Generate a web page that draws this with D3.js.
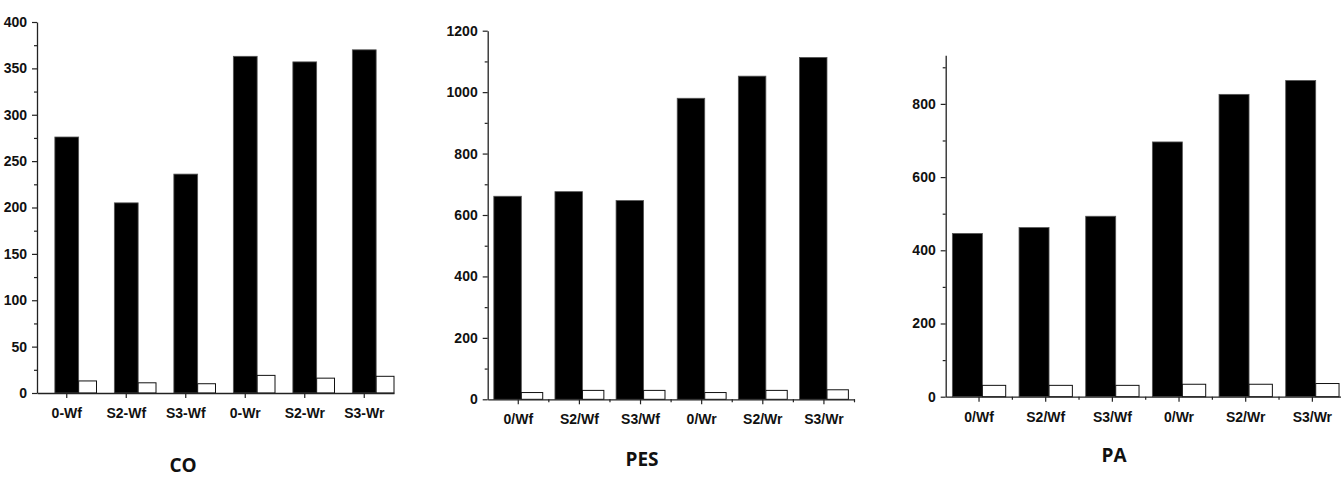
<!DOCTYPE html>
<html>
<head>
<meta charset="utf-8">
<script src="https://cdn.jsdelivr.net/npm/d3@7"></script>
<style>
  html, body { margin: 0; padding: 0; background: #fff; }
  svg { display: block; }
  .tick text { font-family: "Liberation Sans Narrow", "Arial Narrow", "Liberation Sans", sans-serif; font-weight: bold; font-size: 14px; fill: #111; }
  .title { font-family: "Open Sans", "Noto Sans", sans-serif; font-weight: 700; font-size: 19px; fill: #111; }
</style>
</head>
<body>
<svg id="chart" width="1341" height="477"></svg>
<script>
// ---- data ----
const categoriesCO = ["0-Wf", "S2-Wf", "S3-Wf", "0-Wr", "S2-Wr", "S3-Wr"];
const categoriesPES = ["0/Wf", "S2/Wf", "S3/Wf", "0/Wr", "S2/Wr", "S3/Wr"];
const categoriesPA = ["0/Wf", "S2/Wf", "S3/Wf", "0/Wr", "S2/Wr", "S3/Wr"];

const coBlack = [276, 205, 236, 363, 357, 370];
const coWhite = [13, 11, 10, 19, 16, 18];
const pesBlack = [661, 676, 647, 980, 1052, 1113];
const pesWhite = [22, 29, 29, 22, 29, 31];
const paBlack = [446, 462, 493, 696, 826, 864];
const paWhite = [31, 31, 31, 34, 34, 36];

const coTicks = [0, 50, 100, 150, 200, 250, 300, 350, 400];
const coMinor = [25, 75, 125, 175, 225, 275, 325, 375];
const pesTicks = [0, 200, 400, 600, 800, 1000, 1200];
const pesMinor = [100, 300, 500, 700, 900, 1100];
const paTicks = [0, 200, 400, 600, 800];
const paMinor = [100, 300, 500, 700, 900];

const titles = ["CO", "PES", "PA"];

// ---- layout (positions / styles kept separate from data) ----
const panels = [
  { cats: categoriesCO, black: coBlack, white: coWhite, ticks: coTicks, minor: coMinor,
    yMax: 400, xr: [37, 394], yr: [393, 22], blackW: 0.40, whiteW: 0.30, centeredBlack: true,
    xMinor: false, title: titles[0], tx: 183, ty: 472 },
  { cats: categoriesPES, black: pesBlack, white: pesWhite, ticks: pesTicks, minor: pesMinor,
    yMax: 1200, xr: [487.7, 854.5], yr: [399.3, 30.7], blackW: 0.45, whiteW: 0.35, centeredBlack: false,
    xMinor: true, title: titles[1], tx: 642, ty: 466 },
  { cats: categoriesPA, black: paBlack, white: paWhite, ticks: paTicks, minor: paMinor,
    yMax: 933, xr: [945.7, 1345.7], yr: [396.7, 55.2], blackW: 0.45, whiteW: 0.35, centeredBlack: false,
    xMinor: true, title: titles[2], tx: 1114, ty: 462 }
];

const svg = d3.select("#chart");
const axisColor = "#222";
const fmt = d3.format("d");

panels.forEach(p => {
  const g = svg.append("g");
  const x = d3.scaleBand().domain(p.cats).range(p.xr).padding(0);
  const y = d3.scaleLinear().domain([0, p.yMax]).range(p.yr);
  const bw = x.bandwidth();

  const startOf = i => {
    const c = x(p.cats[i]) + bw / 2;
    return p.centeredBlack ? c - p.blackW * bw / 2 : c - (p.blackW + p.whiteW) * bw / 2;
  };

  // black bars
  g.selectAll("rect.black").data(p.black).join("rect")
    .attr("class", "black")
    .attr("x", (d, i) => startOf(i))
    .attr("width", p.blackW * bw)
    .attr("y", d => y(d))
    .attr("height", d => y(0) - y(d))
    .attr("fill", "#000")
    .attr("stroke", "#555")
    .attr("stroke-width", 0.8);

  // white bars
  g.selectAll("rect.white").data(p.white).join("rect")
    .attr("class", "white")
    .attr("x", (d, i) => startOf(i) + p.blackW * bw)
    .attr("width", p.whiteW * bw)
    .attr("y", d => y(d))
    .attr("height", d => y(0) - y(d))
    .attr("fill", "#fff")
    .attr("stroke", "#111")
    .attr("stroke-width", 1);

  // y axis minor
  const yMinorAxis = g.append("g")
    .attr("transform", `translate(${p.xr[0]},0)`)
    .call(d3.axisLeft(y).tickValues(p.minor).tickSize(3).tickSizeOuter(0).tickFormat(""));
  yMinorAxis.select(".domain").remove();

  // y axis major
  const yAxis = g.append("g")
    .attr("transform", `translate(${p.xr[0]},0)`)
    .call(d3.axisLeft(y).tickValues(p.ticks).tickFormat(fmt).tickSize(5).tickSizeOuter(0).tickPadding(5));
  yAxis.select(".domain").attr("stroke", axisColor).attr("stroke-width", 1.3);
  yAxis.selectAll(".tick line").attr("stroke", axisColor).attr("stroke-width", 1.2);
  yMinorAxis.selectAll(".tick line").attr("stroke", axisColor).attr("stroke-width", 1.2);
  yAxis.selectAll(".tick text").attr("font-size", null).attr("font-family", null);

  // x axis
  const xAxis = g.append("g")
    .attr("transform", `translate(0,${p.yr[0]})`)
    .call(d3.axisBottom(x).tickSize(5).tickSizeOuter(0).tickPadding(10));
  xAxis.select(".domain").attr("stroke", axisColor).attr("stroke-width", 1.3);
  xAxis.selectAll(".tick line").attr("stroke", axisColor).attr("stroke-width", 1.2);
  xAxis.selectAll(".tick text").attr("font-size", null).attr("font-family", null);

  if (p.xMinor) {
    const bounds = p.cats.slice(1).map(c => x(c)).concat([p.xr[1]]);
    g.selectAll("line.xminor").data(bounds).join("line")
      .attr("class", "xminor")
      .attr("x1", d => d).attr("x2", d => d)
      .attr("y1", p.yr[0]).attr("y2", p.yr[0] + 3)
      .attr("stroke", axisColor).attr("stroke-width", 1.2);
  }

  // title
  g.append("text").attr("class", "title")
    .attr("x", p.tx).attr("y", p.ty)
    .attr("text-anchor", "middle")
    .text(p.title);
});
</script>
</body>
</html>
